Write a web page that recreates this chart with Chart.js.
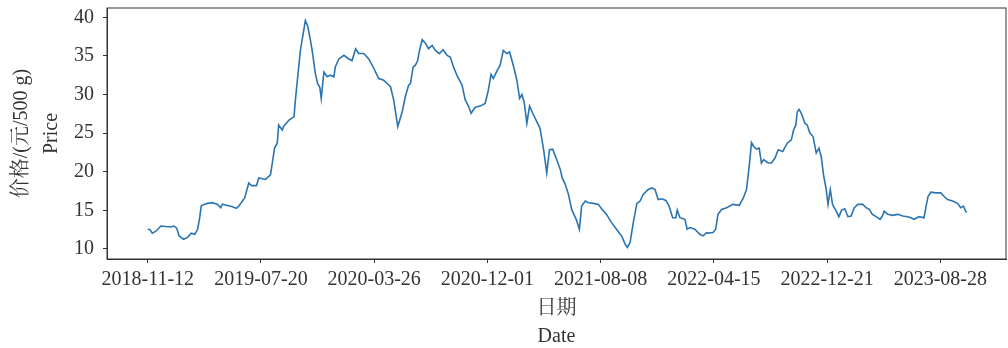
<!DOCTYPE html>
<html lang="zh">
<head>
    <meta charset="UTF-8">
    <title>Price</title>
    <script src="https://cdn.jsdelivr.net/npm/chart.js"></script>
    <style>
        body {
            margin: 0;
            background: #ffffff;
        }

        .chart-box {
            width: 1008px;
            height: 348px;
        }
    </style>
</head>
<body>
    <div class="chart-box">
        <canvas id="priceChart"></canvas>
    </div>

    <script>
        // days since 2018-11-12 (one tick every 250 days)
        const days = [
            0, 5, 10, 18, 29, 40, 51, 58, 64, 69, 79, 88, 96, 104, 110, 114, 118, 124, 132, 143,
            154, 161, 165, 176, 187, 196, 201, 209, 214, 220, 223, 229, 236, 240, 245, 260, 271, 280, 286, 289,
            297, 300, 312, 323, 326, 337, 348, 353, 358, 363, 370, 375, 380, 383, 389, 396, 403, 411, 414, 422,
            433, 444, 451, 459, 466, 477, 488, 499, 510, 521, 536, 543, 552, 562, 569, 576, 580, 586, 591, 596,
            600, 606, 613, 620, 628, 635, 644, 652, 661, 668, 675, 684, 694, 701, 707, 714, 723, 734, 745, 752,
            758, 763, 771, 778, 785, 793, 799, 808, 815, 821, 826, 831, 837, 843, 850, 859, 866, 874, 881, 887,
            894, 903, 911, 915, 922, 929, 936, 946, 953, 958, 966, 973, 984, 995, 1002, 1013, 1024, 1035, 1047, 1054,
            1059, 1065, 1072, 1080, 1087, 1094, 1105, 1113, 1120, 1127, 1135, 1144, 1151, 1159, 1166, 1169, 1175, 1186, 1191, 1197,
            1208, 1219, 1226, 1234, 1237, 1248, 1254, 1259, 1267, 1278, 1292, 1306, 1315, 1322, 1328, 1333, 1338, 1344, 1350, 1355,
            1360, 1370, 1377, 1385, 1392, 1402, 1412, 1421, 1426, 1431, 1434, 1438, 1443, 1451, 1456, 1462, 1469, 1476, 1482, 1487,
            1492, 1498, 1502, 1507, 1512, 1519, 1526, 1532, 1539, 1546, 1553, 1560, 1568, 1579, 1586, 1593, 1600, 1608, 1617, 1622,
            1626, 1634, 1645, 1656, 1667, 1678, 1685, 1692, 1703, 1714, 1718, 1723, 1729, 1740, 1751, 1759, 1766, 1777, 1788, 1795,
            1801, 1806, 1808
        ];

        const prices = [
            12.55, 12.5, 12.05, 12.3, 12.97, 12.9, 12.85, 12.97, 12.7, 11.7, 11.26, 11.5, 12.05, 11.9, 12.55, 13.8, 15.55, 15.77, 15.9, 16.0,
            15.77, 15.35, 15.8, 15.64, 15.47, 15.25, 15.55, 16.2, 16.6, 17.9, 18.55, 18.2, 18.2, 18.2, 19.2, 19.0, 19.6, 23.06, 23.7, 26.06,
            25.4, 25.9, 26.7, 27.13, 29.3, 35.7, 39.58, 38.9, 37.4, 35.7, 32.7, 31.43, 30.9, 29.5, 32.9, 32.3, 32.5, 32.3, 33.57, 34.6,
            35.07, 34.6, 34.4, 35.9, 35.3, 35.3, 34.6, 33.4, 32.07, 31.85, 31.0, 29.3, 25.85, 27.8, 29.8, 31.2, 31.4, 33.57, 33.8, 34.4,
            35.7, 37.09, 36.65, 35.93, 36.36, 35.7, 35.3, 35.8, 35.07, 34.85, 33.57, 32.3, 31.2, 29.3, 28.64, 27.57, 28.34, 28.5, 28.85, 30.57,
            32.6, 32.07, 33.05, 33.8, 35.7, 35.3, 35.5, 33.57, 31.85, 29.5, 30.0, 29.06, 26.28, 28.5, 27.57, 26.5, 25.64, 22.85, 19.85, 22.85,
            22.93, 21.56, 20.27, 19.2, 18.34, 17.05, 15.12, 13.84, 12.55, 15.55, 16.2, 15.98, 15.9, 15.77, 15.21, 14.48, 13.41, 12.55, 11.6, 10.62,
            10.2, 10.84, 13.41, 15.9, 16.2, 17.05, 17.7, 17.9, 17.7, 16.4, 16.5, 16.28, 15.55, 14.05, 14.05, 15.03, 14.05, 13.84, 12.55, 12.77,
            12.55, 11.9, 11.69, 12.1, 12.05, 12.14, 12.55, 14.48, 15.12, 15.34, 15.77, 15.64, 16.6, 17.7, 20.7, 23.78, 23.27, 22.93, 23.06, 21.13,
            21.56, 21.13, 21.13, 21.77, 22.85, 22.63, 23.7, 24.13, 25.4, 26.06, 27.77, 28.07, 27.57, 26.28, 26.06, 25.0, 24.56, 22.42, 23.06, 21.98,
            19.63, 17.7, 15.77, 17.7, 15.77, 15.03, 14.18, 15.03, 15.21, 14.18, 14.26, 15.34, 15.77, 15.77, 15.34, 15.12, 14.48, 14.18, 13.84, 14.26,
            14.9, 14.48, 14.35, 14.48, 14.26, 14.18, 14.05, 13.84, 14.18, 14.05, 15.34, 16.83, 17.35, 17.26, 17.26, 16.76, 16.4, 16.2, 15.9, 15.34,
            15.55, 14.9, 14.7
        ];

        const tickDays = [0, 250, 500, 750, 1000, 1250, 1500, 1750];
        const tickLabels = ['2018-11-12', '2019-07-20', '2020-03-26', '2020-12-01', '2021-08-08', '2022-04-15', '2022-12-21', '2023-08-28'];
        const yTicks = [10, 15, 20, 25, 30, 35, 40];

        const serif = "'Liberation Serif', 'Noto Serif CJK SC', 'Noto Sans CJK SC', serif";
        const ink = '#333333';

        // full box round the plot area
        const frame = {
            id: 'frame',
            afterDraw(chart) {
                const { ctx, chartArea: a } = chart;
                ctx.save();
                ctx.strokeStyle = ink;
                ctx.lineWidth = 1;
                ctx.strokeRect(a.left, a.top, a.right - a.left, a.bottom - a.top);
                ctx.restore();
            }
        };

        new Chart(document.getElementById('priceChart'), {
            type: 'line',
            data: {
                datasets: [{
                    data: days.map((d, i) => ({ x: d, y: prices[i] })),
                    borderColor: '#2a74b2',
                    borderWidth: 1.6,
                    pointRadius: 0,
                    tension: 0
                }]
            },
            options: {
                responsive: true,
                maintainAspectRatio: false,
                animation: false,
                layout: { padding: { top: 8, right: 2, left: 0, bottom: 0 } },
                plugins: {
                    legend: { display: false },
                    tooltip: { enabled: false }
                },
                scales: {
                    x: {
                        type: 'linear',
                        min: -90,
                        max: 1895,
                        afterFit: s => { s.height = 89; },
                        afterBuildTicks: s => { s.ticks = tickDays.map(v => ({ value: v })); },
                        grid: { drawOnChartArea: false, tickLength: 4, color: ink },
                        border: { color: ink },
                        ticks: {
                            color: ink,
                            padding: 5,
                            maxRotation: 0,
                            autoSkip: false,
                            font: { family: serif, size: 20 },
                            callback: v => tickLabels[tickDays.indexOf(v)]
                        },
                        title: {
                            display: true,
                            text: ['日期', 'Date'],
                            color: ink,
                            padding: { top: 0, bottom: -3 },
                            font: { family: serif, size: 20, lineHeight: 1.4 }
                        }
                    },
                    y: {
                        min: 8.7,
                        max: 41.2,
                        afterFit: s => {
                            s.width = 107;
                            // labels are not at the ends, so no extra room above/below
                            s.paddingTop = 0;
                            s.paddingBottom = 0;
                        },
                        afterBuildTicks: s => { s.ticks = yTicks.map(v => ({ value: v })); },
                        grid: { drawOnChartArea: false, tickLength: 4, color: ink },
                        border: { color: ink },
                        ticks: {
                            color: ink,
                            padding: 9,
                            font: { family: serif, size: 20 }
                        },
                        title: {
                            display: true,
                            text: ['价格/(元/500 g)', 'Price'],
                            color: ink,
                            padding: { top: 7, bottom: 0 },
                            font: { family: serif, size: 20, lineHeight: 1.5 }
                        }
                    }
                }
            },
            plugins: [frame]
        });
    </script>
</body>
</html>
